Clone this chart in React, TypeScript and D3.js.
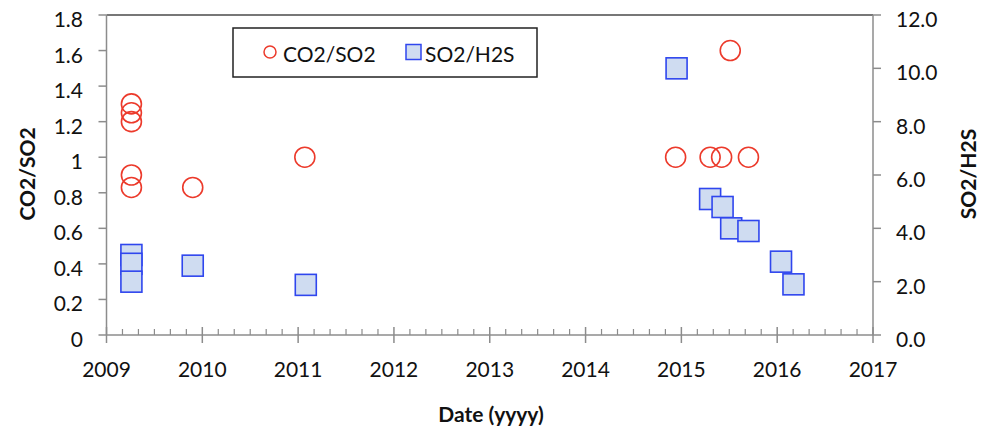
import React from "react";
import * as d3 from "d3";

// CO2/SO2 ratios (left axis), dates as decimal years
const co2so2Dates = [2009.26, 2009.26, 2009.26, 2009.26, 2009.26, 2009.9, 2011.07, 2014.94, 2015.3, 2015.42, 2015.51, 2015.7];
const co2so2Values = [1.3, 1.25, 1.2, 0.9, 0.83, 0.83, 1.0, 1.0, 1.0, 1.0, 1.6, 1.0];

// SO2/H2S ratios (right axis)
const so2h2sDates = [2009.26, 2009.26, 2009.26, 2009.9, 2011.08, 2014.95, 2015.3, 2015.43, 2015.52, 2015.7, 2016.04, 2016.17];
const so2h2sValues = [3.0, 2.67, 2.0, 2.6, 1.88, 10.0, 5.1, 4.8, 4.0, 3.9, 2.75, 1.9];

const yearTicks = [2009, 2010, 2011, 2012, 2013, 2014, 2015, 2016, 2017];
const leftTicks = [0, 0.2, 0.4, 0.6, 0.8, 1, 1.2, 1.4, 1.6, 1.8];
const rightTicks = [0, 2, 4, 6, 8, 10, 12];

const W = 994;
const H = 430;
const plot = { left: 106.5, right: 873, top: 15, bottom: 335 };
const FONT = "Lato, 'Open Sans', sans-serif";
const AXIS = "#8c8c8c";
const RED = "#ec3a2b";
const BLUE = "#2f46ee";
const BLUE_FILL = "#cfdcf1";
const FS = 21;

export default function App() {
  const x = d3.scaleLinear().domain([2009, 2017]).range([plot.left, plot.right]);
  const yL = d3.scaleLinear().domain([0, 1.8]).range([plot.bottom, plot.top]);
  const yR = d3.scaleLinear().domain([0, 12]).range([plot.bottom, plot.top]);

  // two-month minor ticks between the yearly majors
  const minorTicks: number[] = [];
  for (let yr = 2009; yr < 2017; yr++) {
    for (let k = 1; k < 6; k++) minorTicks.push(yr + k / 6);
  }

  const sq = 21;

  return (
    <svg width={W} height={H} style={{ position: "absolute", left: 0, top: 0, background: "#fff" }} fontFamily={FONT}>
      {/* top frame line */}
      <line x1={plot.left} x2={plot.right} y1={plot.top} y2={plot.top} stroke="#4a4a4a" strokeWidth={1.5} />
      {/* axes */}
      <line x1={plot.left} x2={plot.left} y1={plot.top} y2={plot.bottom} stroke={AXIS} strokeWidth={1.5} />
      <line x1={plot.right} x2={plot.right} y1={plot.top} y2={plot.bottom} stroke={AXIS} strokeWidth={1.5} />
      <line x1={plot.left} x2={plot.right} y1={plot.bottom} y2={plot.bottom} stroke={AXIS} strokeWidth={1.5} />

      {/* x ticks */}
      {yearTicks.map((t) => (
        <g key={"xt" + t}>
          <line x1={x(t)} x2={x(t)} y1={plot.bottom - 8} y2={plot.bottom + 8} stroke={AXIS} strokeWidth={1.5} />
          <text x={x(t)} y={377} textAnchor="middle" fontSize={FS} fill="#111">{t}</text>
        </g>
      ))}
      {minorTicks.map((t, i) => (
        <line key={"mt" + i} x1={x(t)} x2={x(t)} y1={plot.bottom - 6} y2={plot.bottom} stroke={AXIS} strokeWidth={1.2} />
      ))}

      {/* left ticks */}
      {leftTicks.map((t) => (
        <g key={"yl" + t}>
          <line x1={plot.left - 8} x2={plot.left} y1={yL(t)} y2={yL(t)} stroke={AXIS} strokeWidth={1.5} />
          <text x={83} y={yL(t) + 12} textAnchor="end" fontSize={FS} fill="#111">{d3.format("")(Math.round(t * 10) / 10)}</text>
        </g>
      ))}

      {/* right ticks */}
      {rightTicks.map((t) => (
        <g key={"yr" + t}>
          <line x1={plot.right} x2={plot.right + 8} y1={yR(t)} y2={yR(t)} stroke={AXIS} strokeWidth={1.5} />
          <text x={896} y={yR(t) + 12} textAnchor="start" fontSize={FS} fill="#111">{d3.format(".1f")(t)}</text>
        </g>
      ))}

      {/* SO2/H2S squares */}
      {so2h2sDates.map((d, i) => (
        <rect key={"s" + i} x={x(d) - sq / 2} y={yR(so2h2sValues[i]) - sq / 2} width={sq} height={sq}
          fill={BLUE_FILL} stroke={BLUE} strokeWidth={1.6} />
      ))}

      {/* CO2/SO2 circles */}
      {co2so2Dates.map((d, i) => (
        <circle key={"c" + i} cx={x(d)} cy={yL(co2so2Values[i])} r={10} fill="none" stroke={RED} strokeWidth={1.6} />
      ))}

      {/* legend */}
      <rect x={233} y={28} width={304} height={49} fill="#fff" stroke="#222" strokeWidth={1.5} />
      <circle cx={270} cy={52} r={6} fill="none" stroke={RED} strokeWidth={1.5} />
      <text x={283} y={62} fontSize={FS} fill="#111">CO2/SO2</text>
      <rect x={406} y={44.5} width={15} height={15} fill={BLUE_FILL} stroke={BLUE} strokeWidth={1.5} />
      <text x={425} y={62} fontSize={FS} fill="#111">SO2/H2S</text>

      {/* axis titles */}
      <text x={491} y={422} textAnchor="middle" fontSize={FS} fontWeight="bold" fill="#111">Date (yyyy)</text>
      <text transform="translate(35,174) rotate(-90)" textAnchor="middle" fontSize={FS} fontWeight="bold" fill="#111">CO2/SO2</text>
      <text transform="translate(976,174) rotate(-90)" textAnchor="middle" fontSize={FS} fontWeight="bold" fill="#111">SO2/H2S</text>
    </svg>
  );
}
